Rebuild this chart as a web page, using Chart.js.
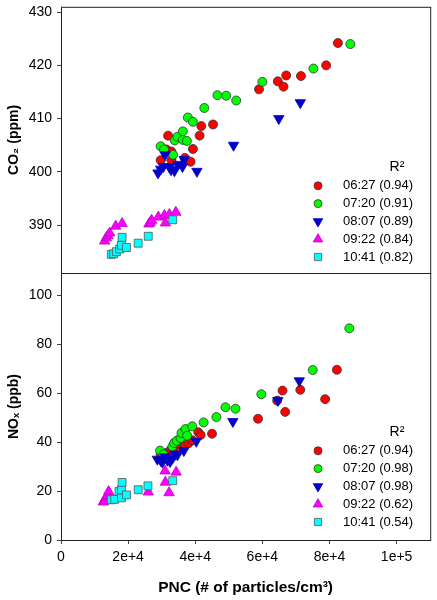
<!DOCTYPE html>
<html>
<head>
<meta charset="utf-8">
<script src="https://cdn.jsdelivr.net/npm/chart.js@4"></script>
<style>
  html, body { margin: 0; padding: 0; background: #fff; }
  #wrap { position: relative; width: 437px; height: 600px; }
  .panel { position: absolute; left: 0; width: 437px; }
  #topPanel { top: 0; height: 280px; }
  #bottomPanel { top: 266px; height: 334px; }
</style>
</head>
<body>
<div id="wrap">
  <div class="panel" id="topPanel"><canvas id="co2Chart"></canvas></div>
  <div class="panel" id="bottomPanel"><canvas id="noxChart"></canvas></div>
</div>
<script>
// Series (start time of each run) and their R² values
const seriesLabels = ['06:27', '07:20', '08:07', '09:22', '10:41'];
const r2CO2 = [0.94, 0.91, 0.89, 0.84, 0.82];
const r2NOx = [0.94, 0.98, 0.98, 0.62, 0.54];

// Axis ticks
const pncTicks = [0, 20000, 40000, 60000, 80000, 100000];
const co2Ticks = [390, 400, 410, 420, 430];
const noxTicks = [0, 20, 40, 60, 80, 100];

// CO2 (ppm) vs PNC (# of particles/cm3)
const co2_0627 = [[29700,402.2],[31400,404.2],[31900,406.8],[32900,403.8],[32900,402.2],[36900,402.6],[38600,401.9],[39300,404.3],[41300,406.8],[41800,408.6],[45300,408.9],[59000,415.5],[64600,417.0],[66300,416.0],[67100,418.1],[71500,418.0],[79000,420.0],[82500,424.2]];
const co2_0720 = [[29700,404.8],[30700,404.2],[33400,403.2],[33900,405.9],[34700,406.6],[36300,406.0],[37500,405.8],[36300,407.6],[37800,410.2],[39300,409.4],[42700,412.0],[46600,414.4],[49200,414.3],[52200,413.4],[60000,416.9],[75200,419.4],[86200,424.0]];
const co2_0807 = [[28900,399.8],[29700,400.5],[30500,401.0],[31000,403.2],[32300,400.9],[32800,400.4],[33800,400.2],[34800,401.4],[36200,401.0],[36700,402.3],[40500,400.1],[51400,405.0],[64900,410.0],[71300,413.0]];
const co2_0922 = [[13000,387.0],[13500,387.6],[14000,388.0],[14500,388.5],[16300,389.8],[18200,390.3],[26200,390.2],[26600,390.5],[27000,390.9],[29000,391.5],[30800,391.8],[31100,390.4],[32300,392.0],[34200,392.4]];
const co2_1041 = [[15000,384.5],[15700,384.6],[16500,385.0],[17500,385.5],[18000,386.2],[18200,387.7],[19500,385.8],[23000,386.6],[26000,387.9],[33300,391.0]];

// NOx (ppb) vs PNC (# of particles/cm3)
const nox_0627 = [[29700,35.0],[31400,35.5],[32700,36.9],[33500,35.8],[35500,37.5],[36900,38.5],[38000,39.5],[39100,40.7],[40900,44.0],[41600,42.9],[45000,43.4],[58700,49.5],[64400,56.9],[66000,61.0],[66800,52.3],[71300,61.3],[78700,57.5],[82200,69.5]];
const nox_0720 = [[29500,36.5],[30500,35.0],[33200,38.2],[33700,39.6],[34500,40.5],[35600,41.6],[35900,43.7],[37100,45.3],[37600,42.6],[39100,46.4],[42500,48.0],[46300,50.2],[49000,54.2],[52000,53.6],[59700,59.5],[75000,69.4],[85900,86.4]];
const nox_0807 = [[28700,33.0],[29700,32.5],[30200,31.8],[31000,34.0],[31700,32.6],[32500,32.0],[33200,33.4],[34000,35.0],[34700,34.8],[36600,36.5],[40300,40.3],[51200,48.4],[64600,57.0],[71000,65.0]];
const nox_0922 = [[12600,15.5],[13000,16.2],[13400,17.2],[13800,18.0],[14200,19.8],[14600,17.0],[26000,19.6],[31000,28.2],[31100,23.6],[32200,19.3],[34300,27.7]];
const nox_1041 = [[15000,16.4],[16000,16.6],[17300,19.8],[18000,17.2],[18000,20.5],[18200,23.5],[19500,18.4],[23000,20.5],[25900,22.1],[33300,24.2]];

// Marker styles, one per series
const seriesColors = ['#ff0000', '#00ff00', '#0000c8', '#ff00ff', '#00ffff'];
const seriesBorders = ['#333333', '#333333', '#0000c8', '#c000c0', '#555555'];
const seriesShapes = ['circle', 'circle', 'triangle', 'triangle', 'rect'];
const seriesRotations = [0, 0, 180, 0, 0];
const seriesRadius = [4.5, 4.5, 6, 6, 5.6];

const FONT = 'Liberation Sans, Arial, sans-serif';

function makeDatasets(seriesData) {
   return seriesData.map((pts, i) => ({
       label: seriesLabels[i],
       data: pts.map(([x, y]) => ({ x, y })),
       backgroundColor: seriesColors[i],
       borderColor: seriesBorders[i],
       borderWidth: 0.8,
       pointStyle: seriesShapes[i],
       rotation: seriesRotations[i],
       pointRadius: seriesRadius[i],
       order: seriesLabels.length - i   // later runs drawn on top
   }));
}

// Box around each panel
const frame = {
   id: 'frame',
   afterDraw(chart) {
       const { ctx, chartArea: a } = chart;
       ctx.save();
       ctx.strokeStyle = '#222';
       ctx.lineWidth = 1;
       ctx.strokeRect(a.left + 0.5, a.top + 0.5, a.right - a.left, a.bottom - a.top);
       ctx.restore();
   }
};

// Legend in the lower right corner of a panel
const panelLegend = {
   id: 'panelLegend',
   afterDatasetsDraw(chart, args, opts) {
       const { ctx, chartArea } = chart;
       const rowGap = 17.8;
       const lastY = chartArea.bottom - opts.bottomOffset;
       const firstY = lastY - rowGap * (seriesLabels.length - 1);
       ctx.save();
       ctx.fillStyle = '#000';
       ctx.textBaseline = 'middle';
       ctx.textAlign = 'center';
       ctx.font = '14px ' + FONT;
       ctx.fillText('R²', 397, firstY - 19);
       seriesLabels.forEach((label, i) => {
           const y = firstY + i * rowGap;
           ctx.fillStyle = seriesColors[i];
           ctx.strokeStyle = seriesBorders[i];
           ctx.lineWidth = 0.8;
           Chart.helpers.drawPoint(ctx, {
               pointStyle: seriesShapes[i],
               radius: seriesRadius[i] - 0.5,
               rotation: seriesRotations[i],
               borderWidth: 0.8
           }, 318, y);
           ctx.fillStyle = '#000';
           ctx.textAlign = 'left';
           ctx.font = '13px ' + FONT;
           ctx.fillText(`${label} (${opts.r2[i].toFixed(2)})`, 343, y);
       });
       ctx.restore();
   }
};

// Drop the automatic label padding so the layout padding alone sets the plot box
function noLabelPadding(s) {
   s.paddingTop = 0;
   s.paddingBottom = 0;
   s.paddingLeft = 0;
   s.paddingRight = 0;
}

function makeChart(canvasId, seriesData, cfg) {
   return new Chart(document.getElementById(canvasId), {
       type: 'scatter',
       data: { datasets: makeDatasets(seriesData) },
       plugins: [frame, panelLegend],
       options: {
           responsive: true,
           maintainAspectRatio: false,
           animation: false,
           layout: { padding: cfg.padding },
           plugins: {
               legend: { display: false },
               tooltip: { enabled: false },
               panelLegend: { r2: cfg.r2, bottomOffset: cfg.legendOffset }
           },
           scales: {
               x: {
                   type: 'linear',
                   min: 0,
                   max: 110000,
                   display: cfg.showX,
                   afterBuildTicks: s => { s.ticks = pncTicks.map(v => ({ value: v })); },
                   afterFit: s => { s.height = cfg.showX ? 60 : 0; noLabelPadding(s); },
                   grid: { drawOnChartArea: false, tickLength: 4, color: '#444' },
                   border: { display: false },
                   ticks: {
                       color: '#000',
                       padding: 5,
                       maxRotation: 0,
                       font: { family: FONT, size: 14 },
                       callback: v => v === 0 ? '0' : v.toExponential(0)
                   },
                   title: {
                       display: true,
                       text: 'PNC (# of particles/cm³)',
                       color: '#000',
                       padding: { top: 0, bottom: 3 },
                       font: { family: FONT, size: 15.5, weight: 'bold' }
                   }
               },
               y: {
                   min: cfg.yMin,
                   max: cfg.yMax,
                   afterBuildTicks: s => { s.ticks = cfg.yTicks.map(v => ({ value: v })); },
                   afterFit: s => { s.width = 61; noLabelPadding(s); },
                   grid: { drawOnChartArea: false, tickLength: 4, color: '#444' },
                   border: { display: false },
                   ticks: {
                       color: '#000',
                       padding: 5,
                       font: { family: FONT, size: 14 }
                   },
                   title: {
                       display: true,
                       text: cfg.yTitle,
                       color: '#000',
                       padding: { top: 6, bottom: 0 },
                       font: { family: FONT, size: 14, weight: 'bold' }
                   }
               }
           }
       }
   });
}

makeChart('co2Chart', [co2_0627, co2_0720, co2_0807, co2_0922, co2_1041], {
   showX: false,
   padding: { top: 6, bottom: 7, left: 0, right: 5 },
   yMin: 381, yMax: 431, yTicks: co2Ticks,
   yTitle: 'CO₂ (ppm)',
   r2: r2CO2,
   legendOffset: 16
});

makeChart('noxChart', [nox_0627, nox_0720, nox_0807, nox_0922, nox_1041], {
   showX: true,
   padding: { top: 7, bottom: 0, left: 0, right: 5 },
   yMin: 0, yMax: 109, yTicks: noxTicks,
   yTitle: 'NOₓ (ppb)',
   r2: r2NOx,
   legendOffset: 18
});
</script>
</body>
</html>
